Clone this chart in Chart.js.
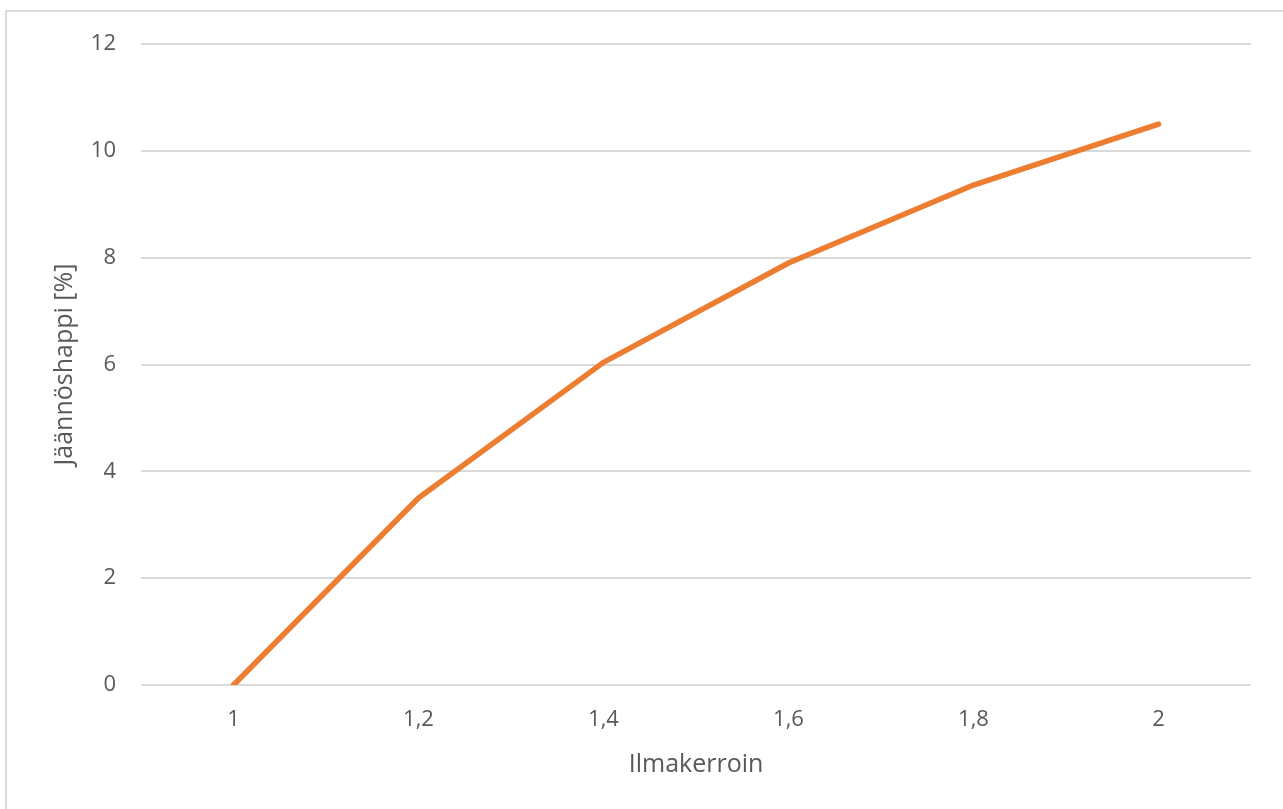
<!DOCTYPE html>
<html>
<head>
<meta charset="utf-8">
<script src="https://cdn.jsdelivr.net/npm/chart.js@4/dist/chart.umd.min.js"></script>
<style>
  html, body { margin: 0; padding: 0; background: #fff; overflow: hidden; }
  #frame { position: absolute; left: 5px; top: 10px; width: 1400px; height: 900px;
           border-left: 2px solid #d9d9d9; border-top: 2px solid #d9d9d9; }
  canvas { position: absolute; left: 0; top: 0; }
</style>
</head>
<body>
<div id="frame"></div>
<canvas id="o2Chart" width="1283" height="809"></canvas>
<script>
  // Ilmakerroin vs. jäännöshappi
  const categories = ['1', '1,2', '1,4', '1,6', '1,8', '2'];
  const residualOxygen = [0, 3.5, 6.04, 7.9, 9.36, 10.5];

  const grey = '#595959';
  const font = 'Open Sans, Noto Sans, sans-serif';

  const ctx = document.getElementById('o2Chart').getContext('2d');
  const chart = new Chart(ctx, {
    type: 'line',
    data: {
      labels: categories,
      datasets: [{
        label: 'Jäännöshappi',
        data: residualOxygen,
        borderColor: '#ED7D31',
        backgroundColor: '#ED7D31',
        borderWidth: 5.5,
        borderCapStyle: 'round',
        borderJoinStyle: 'round',
        pointRadius: 0,
        tension: 0
      }]
    },
    options: {
      responsive: false,
      animation: false,
      devicePixelRatio: 1,
      layout: { padding: { top: 44, right: 32, bottom: 0, left: 0 } },
      plugins: { legend: { display: false }, tooltip: { enabled: false } },
      scales: {
        x: {
          offset: true,
          grid: { display: false, drawTicks: false },
          border: { display: false },
          ticks: { color: grey, font: { family: font, size: 22 }, padding: 22, maxRotation: 0 },
          title: { display: true, text: 'Ilmakerroin', color: grey,
                   font: { family: font, size: 25 }, padding: { top: 0, bottom: 29 } },
          afterFit: function(scale) { scale.height = 124; }
        },
        y: {
          min: 0,
          max: 12,
          ticks: { stepSize: 2, color: grey, font: { family: font, size: 22 }, padding: 25 },
          grid: { color: '#d9d9d9', lineWidth: 2, drawTicks: false },
          border: { display: false },
          title: { display: true, text: 'Jäännöshappi [%]', color: grey,
                   font: { family: font, size: 25 }, padding: { top: 50, bottom: 0 } },
          afterFit: function(scale) { scale.width = 141; }
        }
      }
    }
  });
</script>
</body>
</html>
